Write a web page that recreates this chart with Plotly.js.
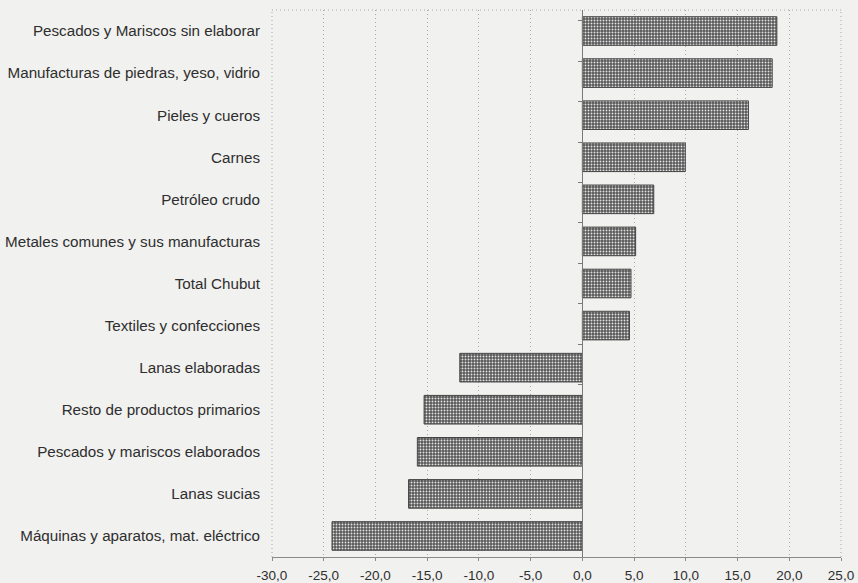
<!DOCTYPE html>
<html>
<head>
<meta charset="utf-8">
<script src="https://cdn.plot.ly/plotly-3.0.1.min.js"></script>
<style>html,body{margin:0;padding:0;background:#f1f1ef;}#chart{width:858px;height:583px;}</style>
</head>
<body>
<div id="chart"></div>
<script>
const categories = [
  "Pescados y Mariscos sin elaborar",
  "Manufacturas de piedras, yeso, vidrio",
  "Pieles y cueros",
  "Carnes",
  "Petróleo crudo",
  "Metales comunes y sus manufacturas",
  "Total Chubut",
  "Textiles y confecciones",
  "Lanas elaboradas",
  "Resto de productos primarios",
  "Pescados y mariscos elaborados",
  "Lanas sucias",
  "Máquinas y aparatos, mat. eléctrico"
];
const values = [18.8, 18.35, 16.05, 9.95, 6.9, 5.15, 4.7, 4.55, -11.85, -15.3, -15.95, -16.8, -24.2];
const zeros = categories.map(() => 0);
const xTicks = [-30, -25, -20, -15, -10, -5, 0, 5, 10, 15, 20, 25];
const xTickText = xTicks.map(v => v.toFixed(1).replace(".", ","));

const labelFont = {family: "Liberation Sans, Arial, sans-serif", size: 15.2, color: "#2e2e2e"};
const tickFont = {family: "Liberation Sans, Arial, sans-serif", size: 13.5, color: "#2e2e2e"};
const dotGrid = "1px,3px";

const traces = [
  {
    type: "bar",
    orientation: "h",
    y: categories,
    x: values,
    width: 0.68,
    marker: {
      color: "#585858",
      line: {color: "#454545", width: 1},
      pattern: {shape: ".", bgcolor: "#575757", fgcolor: "#e2e2e2", size: 3, solidity: 0.32, fillmode: "replace"}
    },
    hoverinfo: "x+y",
    showlegend: false
  },
  {
    type: "scatter",
    mode: "markers",
    y: categories,
    x: zeros,
    yaxis: "y2",
    marker: {opacity: 0},
    hoverinfo: "skip",
    showlegend: false
  }
];

const border = {color: "#a8a8a8", width: 1, dash: dotGrid};

const layout = {
  width: 858,
  height: 583,
  margin: {l: 272, r: 17, t: 10, b: 26},
  paper_bgcolor: "#f1f1ef",
  plot_bgcolor: "#f1f1ef",
  font: labelFont,
  xaxis: {
    range: [-30, 25],
    tickvals: xTicks,
    ticktext: xTickText,
    showgrid: true,
    gridcolor: "#a8a8a8",
    griddash: dotGrid,
    gridwidth: 1,
    zeroline: false,
    showline: true,
    linecolor: "#8a8a8a",
    linewidth: 1,
    ticks: "outside",
    ticklen: 3,
    tickcolor: "#8a8a8a",
    ticklabelstandoff: 3,
    tickfont: tickFont
  },
  yaxis: {
    type: "category",
    categoryorder: "array",
    categoryarray: categories,
    autorange: "reversed",
    showgrid: false,
    zeroline: false,
    showline: false,
    ticks: "",
    ticklabelstandoff: 11,
    tickfont: labelFont
  },
  yaxis2: {
    type: "category",
    categoryorder: "array",
    categoryarray: categories,
    autorange: "reversed",
    overlaying: "y",
    anchor: "free",
    position: 30 / 55,
    side: "left",
    showticklabels: false,
    showgrid: false,
    zeroline: false,
    showline: true,
    linecolor: "#7a7a7a",
    linewidth: 1,
    ticks: "outside",
    tickson: "boundaries",
    ticklen: 4,
    tickcolor: "#7a7a7a"
  },
  shapes: [
    {type: "line", xref: "paper", yref: "paper", x0: 0, x1: 1, y0: 1, y1: 1, line: border},
    {type: "line", xref: "paper", yref: "paper", x0: 0, x1: 0, y0: 0, y1: 1, line: border},
    {type: "line", xref: "paper", yref: "paper", x0: 1, x1: 1, y0: 0, y1: 1, line: border}
  ]
};

Plotly.newPlot("chart", traces, layout, {displayModeBar: false, staticPlot: true});
</script>
</body>
</html>
